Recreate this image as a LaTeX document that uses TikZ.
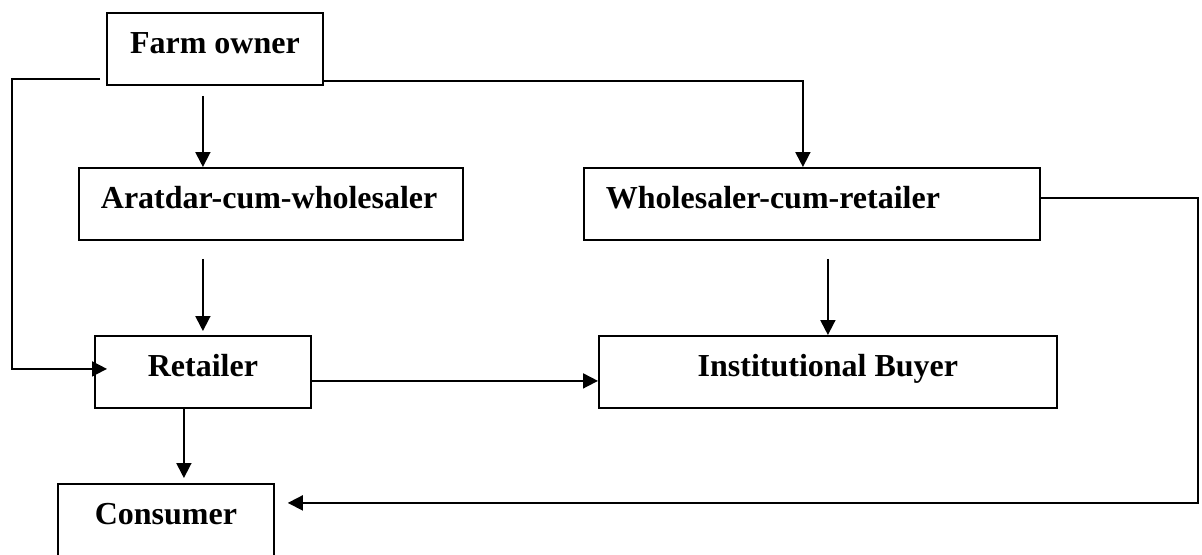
\documentclass[tikz,border=0pt]{standalone}
\usepackage{fontspec}
\setmainfont{Liberation Serif}
\usetikzlibrary{arrows.meta,calc}
\begin{document}
\begin{tikzpicture}[x=0.5pt,y=-0.5pt,
  box/.style={draw, line width=0.9pt, rectangle, anchor=north west,
    inner xsep=0pt, inner ysep=0pt, minimum height=36pt,
    text height=20.5pt, text depth=15.5pt,
    font=\fontsize{16}{18}\selectfont\bfseries},
  lbox/.style={box, inner xsep=11pt, align=left},
  conn/.style={line width=0.9pt},
  arr/.style={conn, -{Triangle[length=7.5pt,width=7.5pt]}}]
\useasboundingbox (0,0) rectangle (1202,554);
\node[box, minimum width=108pt] (farm) at (106,12) {Farm owner};
\node[lbox, text width=170pt] (arat) at (78,167) {Aratdar-cum-wholesaler};
\node[lbox, text width=206pt] (whole) at (583,167) {Wholesaler-cum-retailer};
\node[box, minimum width=108pt] (ret) at (94,335) {Retailer};
\node[box, minimum width=229pt] (inst) at (598,335) {Institutional Buyer};
\node[box, minimum width=108pt] (cons) at (57,483) {Consumer};

\draw[arr] ([yshift=-5pt]farm.south -| ret.north) -- (arat.north -| ret.north);
\draw[arr] ([yshift=2.5pt]farm.south east) -| ([xshift=-4.5pt]whole.north);
\draw[arr] ([xshift=-3pt,yshift=3.5pt]farm.south west) -- ++(-88,0) |- ([xshift=6.5pt,yshift=1.5pt]ret.west);
\draw[arr] ([yshift=-9pt]arat.south -| ret.north) -- ([yshift=2pt]ret.north);
\draw[arr] ([yshift=-9pt]whole.south -| inst.north) -- (inst.north);
\draw[arr] ([yshift=-4.5pt]ret.east) -- ([yshift=-4.5pt]inst.west);
\draw[arr] ([xshift=-9.5pt]ret.south) -- ([xshift=-9.5pt,yshift=2.5pt]ret.south |- cons.north);
\draw[arr] ([yshift=3pt]whole.east) -- ++(157,0) |- ([xshift=6.5pt,yshift=8.5pt]cons.east);
\end{tikzpicture}
\end{document}
